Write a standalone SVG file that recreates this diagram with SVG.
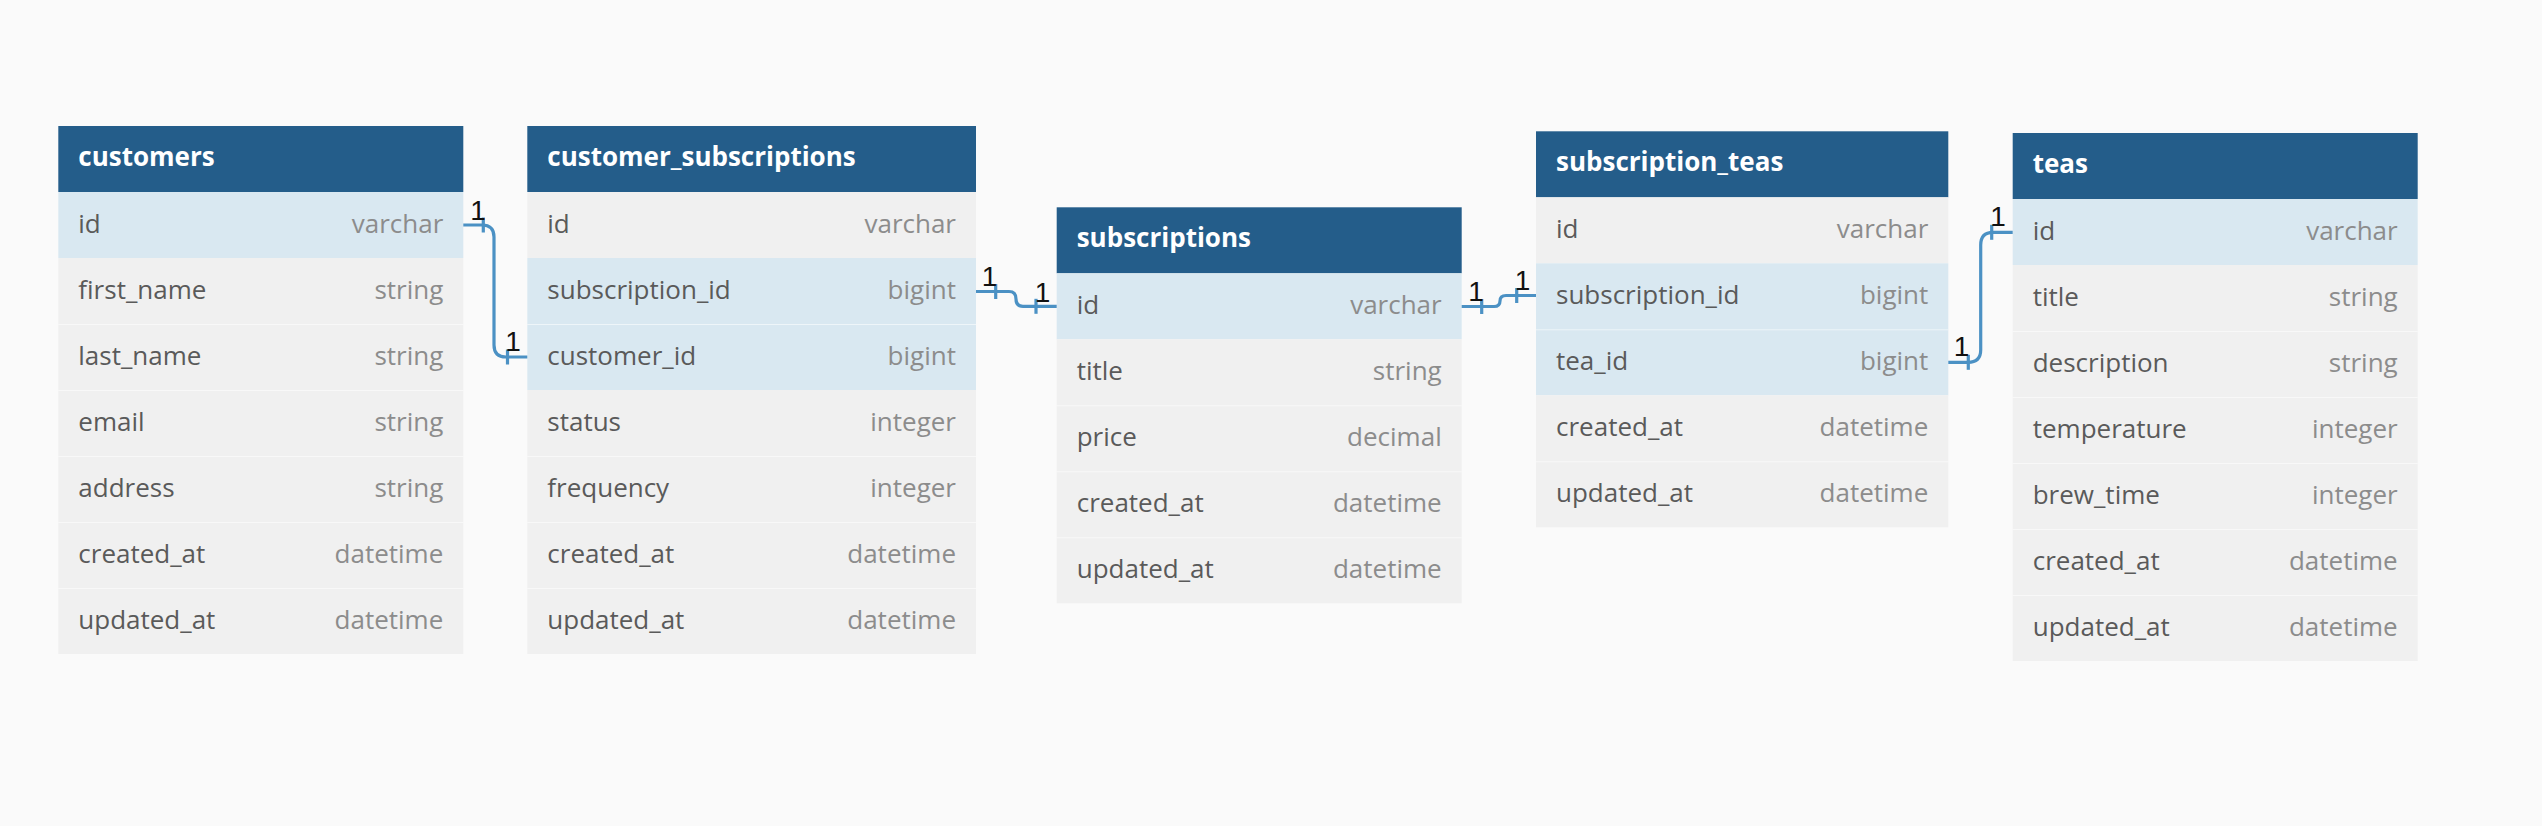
<svg xmlns="http://www.w3.org/2000/svg" width="2542" height="826" viewBox="0 0 2542 826">
<style>
.bg{fill:#fafafa}
.hd{fill:#245d8a}
.r{fill:#f0f0f0}
.h{fill:#d9e8f1}
.sep{stroke:#ffffff;stroke-opacity:0.55;stroke-width:1}
.ht{font-family:"Open Sans",sans-serif;font-size:26px;font-weight:bold;fill:#ffffff}
.n{font-family:"Open Sans",sans-serif;font-size:26px;fill:#5a5a5a}
.t{font-family:"Open Sans",sans-serif;font-size:26px;fill:#8c8c8c;text-anchor:end}
.c{fill:none;stroke:#4b91c4;stroke-width:3.2}
.tk{stroke:#4b91c4;stroke-width:3.2}
.lb{font-family:"Liberation Sans",Arial,sans-serif;font-size:28px;fill:#111111;text-anchor:middle}
</style>
<rect class="bg" x="0" y="0" width="2542" height="826"/>

<g id="customers" transform="translate(58.3,126)">
<rect class="hd" x="0" y="0" width="405" height="66"/>
<text class="ht" x="20" y="40">customers</text>
<rect class="h" x="0" y="66" width="405" height="66"/>
<rect class="r" x="0" y="132" width="405" height="396"/>
<line class="sep" x1="0" y1="198.5" x2="405" y2="198.5"/>
<line class="sep" x1="0" y1="264.5" x2="405" y2="264.5"/>
<line class="sep" x1="0" y1="330.5" x2="405" y2="330.5"/>
<line class="sep" x1="0" y1="396.5" x2="405" y2="396.5"/>
<line class="sep" x1="0" y1="462.5" x2="405" y2="462.5"/>
<text class="n" x="20" y="107">id</text><text class="t" x="385" y="107">varchar</text>
<text class="n" x="20" y="173">first_name</text><text class="t" x="385" y="173">string</text>
<text class="n" x="20" y="239">last_name</text><text class="t" x="385" y="239">string</text>
<text class="n" x="20" y="305">email</text><text class="t" x="385" y="305">string</text>
<text class="n" x="20" y="371">address</text><text class="t" x="385" y="371">string</text>
<text class="n" x="20" y="437">created_at</text><text class="t" x="385" y="437">datetime</text>
<text class="n" x="20" y="503">updated_at</text><text class="t" x="385" y="503">datetime</text>
</g>

<g id="customer_subscriptions" transform="translate(527.3,126)">
<rect class="hd" x="0" y="0" width="448.7" height="66"/>
<text class="ht" x="20" y="40">customer_subscriptions</text>
<rect class="r" x="0" y="66" width="448.7" height="66"/>
<rect class="h" x="0" y="132" width="448.7" height="132"/>
<rect class="r" x="0" y="264" width="448.7" height="264"/>
<line class="sep" x1="0" y1="198.5" x2="448.7" y2="198.5"/>
<line class="sep" x1="0" y1="330.5" x2="448.7" y2="330.5"/>
<line class="sep" x1="0" y1="396.5" x2="448.7" y2="396.5"/>
<line class="sep" x1="0" y1="462.5" x2="448.7" y2="462.5"/>
<text class="n" x="20" y="107">id</text><text class="t" x="428.7" y="107">varchar</text>
<text class="n" x="20" y="173">subscription_id</text><text class="t" x="428.7" y="173">bigint</text>
<text class="n" x="20" y="239">customer_id</text><text class="t" x="428.7" y="239">bigint</text>
<text class="n" x="20" y="305">status</text><text class="t" x="428.7" y="305">integer</text>
<text class="n" x="20" y="371">frequency</text><text class="t" x="428.7" y="371">integer</text>
<text class="n" x="20" y="437">created_at</text><text class="t" x="428.7" y="437">datetime</text>
<text class="n" x="20" y="503">updated_at</text><text class="t" x="428.7" y="503">datetime</text>
</g>

<g id="subscriptions" transform="translate(1056.7,207.3)">
<rect class="hd" x="0" y="0" width="405" height="66"/>
<text class="ht" x="20" y="40">subscriptions</text>
<rect class="h" x="0" y="66" width="405" height="66"/>
<rect class="r" x="0" y="132" width="405" height="264"/>
<line class="sep" x1="0" y1="198.5" x2="405" y2="198.5"/>
<line class="sep" x1="0" y1="264.5" x2="405" y2="264.5"/>
<line class="sep" x1="0" y1="330.5" x2="405" y2="330.5"/>
<text class="n" x="20" y="107">id</text><text class="t" x="385" y="107">varchar</text>
<text class="n" x="20" y="173">title</text><text class="t" x="385" y="173">string</text>
<text class="n" x="20" y="239">price</text><text class="t" x="385" y="239">decimal</text>
<text class="n" x="20" y="305">created_at</text><text class="t" x="385" y="305">datetime</text>
<text class="n" x="20" y="371">updated_at</text><text class="t" x="385" y="371">datetime</text>
</g>

<g id="subscription_teas" transform="translate(1536,131.3)">
<rect class="hd" x="0" y="0" width="412.3" height="66"/>
<text class="ht" x="20" y="40">subscription_teas</text>
<rect class="r" x="0" y="66" width="412.3" height="66"/>
<rect class="h" x="0" y="132" width="412.3" height="132"/>
<rect class="r" x="0" y="264" width="412.3" height="132"/>
<line class="sep" x1="0" y1="198.5" x2="412.3" y2="198.5"/>
<line class="sep" x1="0" y1="330.5" x2="412.3" y2="330.5"/>
<text class="n" x="20" y="107">id</text><text class="t" x="392.3" y="107">varchar</text>
<text class="n" x="20" y="173">subscription_id</text><text class="t" x="392.3" y="173">bigint</text>
<text class="n" x="20" y="239">tea_id</text><text class="t" x="392.3" y="239">bigint</text>
<text class="n" x="20" y="305">created_at</text><text class="t" x="392.3" y="305">datetime</text>
<text class="n" x="20" y="371">updated_at</text><text class="t" x="392.3" y="371">datetime</text>
</g>

<g id="teas" transform="translate(2012.7,133)">
<rect class="hd" x="0" y="0" width="405" height="66"/>
<text class="ht" x="20" y="40">teas</text>
<rect class="h" x="0" y="66" width="405" height="66"/>
<rect class="r" x="0" y="132" width="405" height="396"/>
<line class="sep" x1="0" y1="198.5" x2="405" y2="198.5"/>
<line class="sep" x1="0" y1="264.5" x2="405" y2="264.5"/>
<line class="sep" x1="0" y1="330.5" x2="405" y2="330.5"/>
<line class="sep" x1="0" y1="396.5" x2="405" y2="396.5"/>
<line class="sep" x1="0" y1="462.5" x2="405" y2="462.5"/>
<text class="n" x="20" y="107">id</text><text class="t" x="385" y="107">varchar</text>
<text class="n" x="20" y="173">title</text><text class="t" x="385" y="173">string</text>
<text class="n" x="20" y="239">description</text><text class="t" x="385" y="239">string</text>
<text class="n" x="20" y="305">temperature</text><text class="t" x="385" y="305">integer</text>
<text class="n" x="20" y="371">brew_time</text><text class="t" x="385" y="371">integer</text>
<text class="n" x="20" y="437">created_at</text><text class="t" x="385" y="437">datetime</text>
<text class="n" x="20" y="503">updated_at</text><text class="t" x="385" y="503">datetime</text>
</g>

<g id="connectors">
<path class="c" d="M463.3,225 H482 Q494,225 494,237 V345 Q494,357 506,357 H527.3"/>
<line class="tk" x1="483.3" y1="217.5" x2="483.3" y2="232.5"/>
<line class="tk" x1="507.5" y1="349.5" x2="507.5" y2="364.5"/>
<text class="lb" x="478" y="220">1</text>
<text class="lb" x="513" y="351">1</text>

<path class="c" d="M976,291.5 H1009 Q1016,291.5 1016,299 Q1016,306.3 1023,306.3 H1056.7"/>
<line class="tk" x1="995.7" y1="284" x2="995.7" y2="299"/>
<line class="tk" x1="1036" y1="298.8" x2="1036" y2="313.8"/>
<text class="lb" x="989.5" y="286">1</text>
<text class="lb" x="1042.5" y="301.5">1</text>

<path class="c" d="M1461.7,306.5 H1494 Q1500,306.5 1500,301 Q1500,295.5 1506,295.5 H1536"/>
<line class="tk" x1="1481.7" y1="299" x2="1481.7" y2="314"/>
<line class="tk" x1="1516.7" y1="288" x2="1516.7" y2="303"/>
<text class="lb" x="1476" y="300.7">1</text>
<text class="lb" x="1522.5" y="290">1</text>

<path class="c" d="M1948.3,362.3 H1968 Q1980.7,362.3 1980.7,350 V245 Q1980.7,232.3 1993,232.3 H2012.7"/>
<line class="tk" x1="1968.3" y1="354.8" x2="1968.3" y2="369.8"/>
<line class="tk" x1="1991.7" y1="224.8" x2="1991.7" y2="239.8"/>
<text class="lb" x="1961.5" y="356">1</text>
<text class="lb" x="1998" y="226">1</text>
</g>
</svg>
